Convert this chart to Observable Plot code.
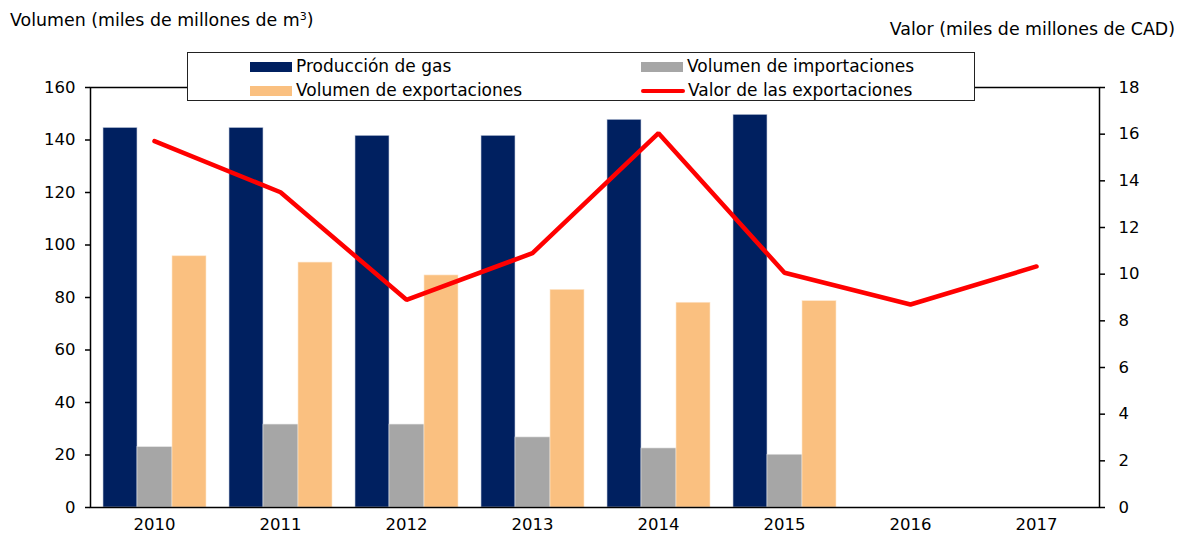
<!DOCTYPE html>
<html><head><meta charset="utf-8">
<script src="https://cdn.jsdelivr.net/npm/d3@7"></script>
<script src="https://cdn.jsdelivr.net/npm/@observablehq/plot@0.6"></script>
<style>
body{margin:0;background:#fff;font-family:"DejaVu Sans",Verdana,sans-serif;}
#wrap{position:relative;width:1183px;height:539px;overflow:hidden;}
#wrap svg{position:absolute;left:0;top:0;}
.ch g[aria-label$="tick label"]{font-size:16.5px !important;}
.t{position:absolute;font-size:17.4px;color:#000;white-space:nowrap;line-height:1;}
#legend{position:absolute;left:187px;top:52px;width:786px;height:47px;border:1.5px solid #222;background:#fff;}
.li{position:absolute;font-size:17px;white-space:nowrap;line-height:1;display:flex;align-items:center;}
.sw{display:inline-block;width:42px;height:10px;margin-right:4px;}
.ln{display:inline-block;width:44px;height:4px;border-radius:2px;margin-right:3px;}
</style>
</head><body>
<div id="wrap">
<div class="t" style="left:10px;top:11px;">Volumen (miles de millones de m<sup style="font-size:11px;vertical-align:6px;">3</sup>)</div>
<div class="t" style="right:8px;top:21px;">Valor (miles de millones de CAD)</div>
<div id="legend"></div>
</div>
<script>
const years = ["2010","2011","2012","2013","2014","2015","2016","2017"];
const produccion = [144.6,144.6,141.6,141.6,147.7,149.6,null,null];
const importaciones = [23.0,31.6,31.6,26.7,22.5,20.1,null,null];
const exportaciones = [95.7,93.3,88.4,82.9,78.0,78.6,null,null];
const valorExport = [15.70,13.51,8.90,10.90,16.04,10.06,8.70,10.33];
const yTicks = [0,20,40,60,80,100,120,140,160];
const y2Ticks = [0,2,4,6,8,10,12,14,16,18];
const seriesNames = ["Producción de gas","Volumen de importaciones","Volumen de exportaciones","Valor de las exportaciones"];
const colors = ["#002060","#a6a6a6","#fac080","#ff0000"];

const Y2MAX = 18, YMAX = 160;
const toLeft = v => v * YMAX / Y2MAX;

const rows = years.map((year,i)=>({year, prod:produccion[i], imp:importaciones[i], exp:exportaciones[i], valor:valorExport[i]}));

const chart = Plot.plot({
  width:1183, height:539,
  className:"ch",
  marginLeft:90, marginRight:84, marginTop:87, marginBottom:32,
  style:{fontFamily:"DejaVu Sans, Verdana, sans-serif", fontSize:"16px", color:"#000", background:"transparent"},
  x:{domain:years, padding:0, label:null},
  y:{domain:[0,YMAX], label:null},
  marks:[
    Plot.barY(rows.filter(d=>d.prod!=null), {x:"year", y:"prod", fill:colors[0], insetLeft:12, insetRight:80, stroke:"#c8d0e0", strokeWidth:0.6}),
    Plot.barY(rows.filter(d=>d.imp!=null), {x:"year", y:"imp", fill:colors[1], insetLeft:46, insetRight:45, stroke:"#e6e6e6", strokeWidth:0.6}),
    Plot.barY(rows.filter(d=>d.exp!=null), {x:"year", y:"exp", fill:colors[2], insetLeft:81, insetRight:11, stroke:"#fde6cc", strokeWidth:0.6}),
    Plot.frame({stroke:"#000", strokeWidth:1.5}),
    Plot.axisY({anchor:"left", ticks:yTicks, tickSize:5, tickPadding:10, label:null, strokeWidth:1.5}),
    Plot.axisY({anchor:"right", ticks:y2Ticks.map(toLeft), tickFormat:d=>String(Math.round(d*Y2MAX/YMAX)), tickSize:5, tickPadding:14, label:null, strokeWidth:1.5}),
    Plot.axisX({anchor:"bottom", tickSize:0, tickPadding:11, label:null}),
    Plot.line(rows, {x:"year", y:d=>toLeft(d.valor), stroke:colors[3], strokeWidth:4.5, strokeLinejoin:"miter", strokeLinecap:"round"})
  ]
});
document.getElementById("wrap").prepend(chart);

const legend = document.getElementById("legend");
const pos = [[62,5],[453,5],[62,29],[453,29]];
seriesNames.forEach((name,i)=>{
  const d = document.createElement("div");
  d.className = "li";
  d.style.left = pos[i][0]+"px";
  d.style.top = pos[i][1]+"px";
  const s = document.createElement("span");
  s.className = i===3 ? "ln" : "sw";
  s.style.background = colors[i];
  d.appendChild(s);
  d.appendChild(document.createTextNode(name));
  legend.appendChild(d);
});
</script>
</body></html>
